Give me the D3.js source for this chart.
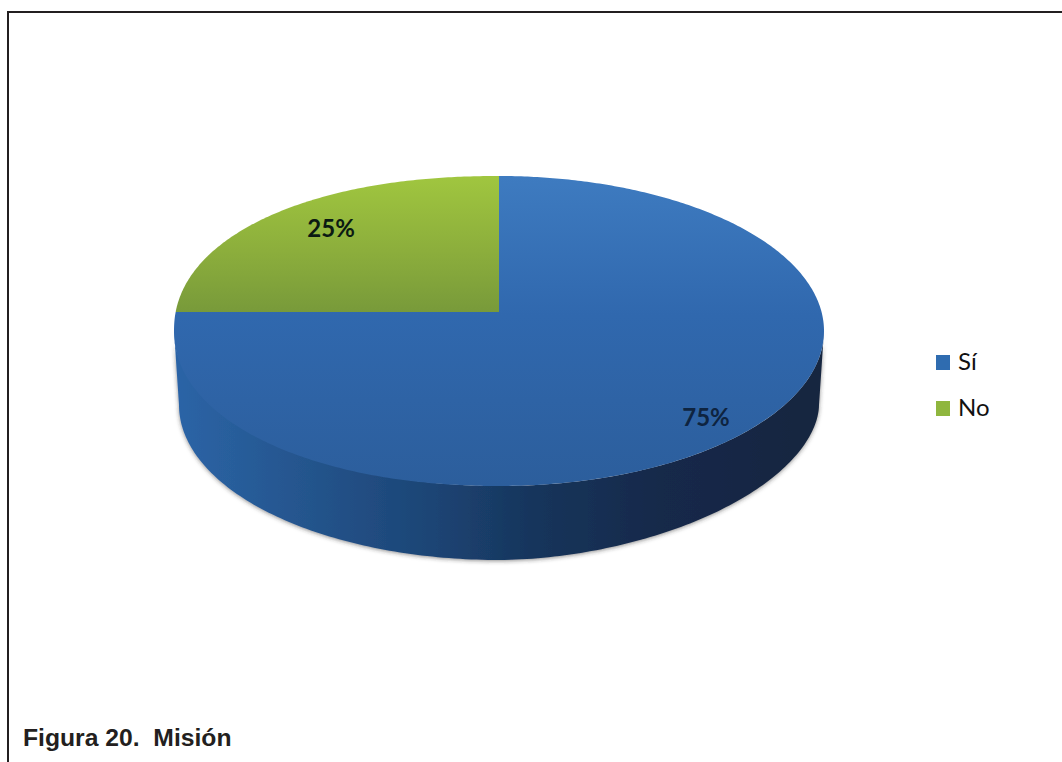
<!DOCTYPE html>
<html lang="es">
<head>
<meta charset="utf-8">
<title>Figura 20. Misión</title>
<script src="https://cdn.jsdelivr.net/npm/d3@7/dist/d3.min.js"></script>
<style>
  html, body { margin: 0; padding: 0; background: #fff; }
  svg { display: block; }
</style>
</head>
<body>
<div id="chart"></div>
<script>
// Survey answers shown in the pie
const categories = ["Sí", "No"];
const shares = [75, 25];
const caption = "Figura 20.  Misión";

const width = 1062, height = 762;
const svg = d3.select("#chart").append("svg")
  .attr("width", width).attr("height", height);
const defs = svg.append("defs");

// Vertical shading of the top face, horizontal shading of the rim
function linear(id, x2, y2, stops, box) {
  const g = defs.append("linearGradient").attr("id", id)
    .attr("gradientUnits", "userSpaceOnUse")
    .attr("x1", box[0]).attr("y1", box[1]).attr("x2", x2).attr("y2", y2);
  stops.forEach(([o, c]) => g.append("stop").attr("offset", o).attr("stop-color", c));
}
linear("blueTop", 499, 486, [[0, "#3e7bc0"], [0.45, "#3068ae"], [1, "#2c5e9c"]], [499, 176]);
linear("greenTop", 499, 312, [[0, "#a0c63f"], [0.55, "#8cae3c"], [1, "#789a3a"]], [499, 176]);
linear("rim", 822, 0, [
  [0, "#2b64a6"], [0.18, "#25568f"], [0.4, "#1c4474"], [0.55, "#17355c"],
  [0.75, "#14294a"], [1, "#13253f"]
], [178, 0]);

const shadow = defs.append("filter").attr("id", "rimShadow")
  .attr("x", "-5%").attr("y", "-5%").attr("width", "110%").attr("height", "110%");
shadow.append("feDropShadow")
  .attr("dx", 0).attr("dy", 1).attr("stdDeviation", 2)
  .attr("flood-color", "#333").attr("flood-opacity", 0.55);

// Tilted disc: a projective map keeps the circle an ellipse while moving
// the pie's centre up from the middle of that ellipse
const disc = { cx: 499, cy: 331, rx: 325, ry: 155, apexY: 312 };
const base = { cx: 499, cy: 405, rx: 320, ry: 155 };
const k = (disc.apexY - disc.cy) / disc.ry;
const norm = Math.sqrt(1 - k * k);
const project = (a, r = 1) => {
  const u = r * Math.sin(a), v = -r * Math.cos(a), w = 1 + k * v;
  return [disc.cx + disc.rx * norm * u / w, disc.cy + disc.ry * (v + k) / w];
};

// Superellipse rescaling: exponents above 2 fill out a quadrant, below 2 flatten it
const reshape = (dx, dy, e) => {
  const s = Math.pow(Math.pow(Math.abs(dx), e) + Math.pow(Math.abs(dy), e), -1 / e);
  return [dx * s, dy * s];
};

// Outer edge of the top face; the left side bulges a little past a true ellipse
const edge = a => {
  const [x, y] = project(a);
  const dx = (x - disc.cx) / disc.rx, dy = (y - disc.cy) / disc.ry;
  const e = dx >= 0 ? 2 : dy < 0 ? 2.15 : 2.08;
  const [nx, ny] = reshape(dx, dy, e);
  return [disc.cx + nx * disc.rx, disc.cy + ny * disc.ry];
};

// Lower outline of the base, slightly flatter towards the right
const baseEdge = t => {
  const dx = Math.cos(t), dy = Math.sin(t);
  const [nx, ny] = dx > 0 ? reshape(dx, dy, 1.83) : [dx, dy];
  return [base.cx + nx * base.rx, base.cy + ny * base.ry];
};

const pie = d3.pie().sort(null).value(d => d);
const arcs = pie(shares);
const line = d3.line();

// Rim: lower half of the top ellipse joined to the lower half of the base
const halfTurn = d3.range(0, 181).map(d => d * Math.PI / 180);
const rimPath = [
  ...halfTurn.map(t => [disc.cx + disc.rx * Math.cos(t), disc.cy + disc.ry * Math.sin(t)]),
  ...halfTurn.slice().reverse().map(baseEdge)
];
svg.append("path").attr("d", line(rimPath) + "Z")
  .attr("fill", "url(#rim)").attr("filter", "url(#rimShadow)");

// Top face
const fills = ["url(#blueTop)", "url(#greenTop)"];
svg.selectAll("path.slice").data(arcs).join("path")
  .attr("class", "slice")
  .attr("fill", (d, i) => fills[i])
  .attr("d", d => {
    const n = Math.ceil((d.endAngle - d.startAngle) * 90);
    const pts = d3.range(n + 1).map(i =>
      edge(d.startAngle + (d.endAngle - d.startAngle) * i / n));
    return line([project(0, 0), ...pts]) + "Z";
  });

// Percentage labels: radius and position along each slice's sweep
const labelSpots = [[0.902, 0.516], [0.761, 0.481]];
const labelInks = ["#0e2440", "#0b1a12"];
svg.selectAll("text.pct").data(arcs).join("text")
  .attr("class", "pct")
  .attr("text-anchor", "middle")
  .attr("font-family", "Lato, 'Open Sans', sans-serif")
  .attr("font-weight", 700).attr("font-size", 24)
  .attr("fill", (d, i) => labelInks[i])
  .each(function (d, i) {
    const [r, f] = labelSpots[i];
    const [x, y] = project(d.startAngle + (d.endAngle - d.startAngle) * f, r);
    d3.select(this).attr("x", x).attr("y", y);
  })
  .text(d => d.data + "%");

// Legend
const legendY = d3.scalePoint().domain(categories).range([362, 408]);
const swatches = ["#2f6cb0", "#8fb63e"];
const legend = svg.selectAll("g.key").data(categories).join("g")
  .attr("class", "key")
  .attr("transform", d => `translate(936,${legendY(d)})`);
legend.append("rect").attr("y", -7).attr("width", 14).attr("height", 15)
  .attr("fill", (d, i) => swatches[i]);
legend.append("text").attr("x", 22).attr("y", 8)
  .attr("font-family", "Lato, 'Open Sans', sans-serif")
  .attr("font-size", 24).attr("fill", "#111")
  .text(d => d);

// Caption and the frame around the figure (open on the right and at the bottom)
svg.append("text").attr("x", 23).attr("y", 746)
  .attr("font-family", "'Liberation Sans', Arial, sans-serif")
  .attr("font-weight", 700).attr("font-size", 24.7).attr("fill", "#231f20")
  .style("white-space", "pre")
  .text(caption);

svg.append("path")
  .attr("d", "M8,762V12H1062")
  .attr("fill", "none").attr("stroke", "#231f20").attr("stroke-width", 2);
</script>
</body>
</html>
